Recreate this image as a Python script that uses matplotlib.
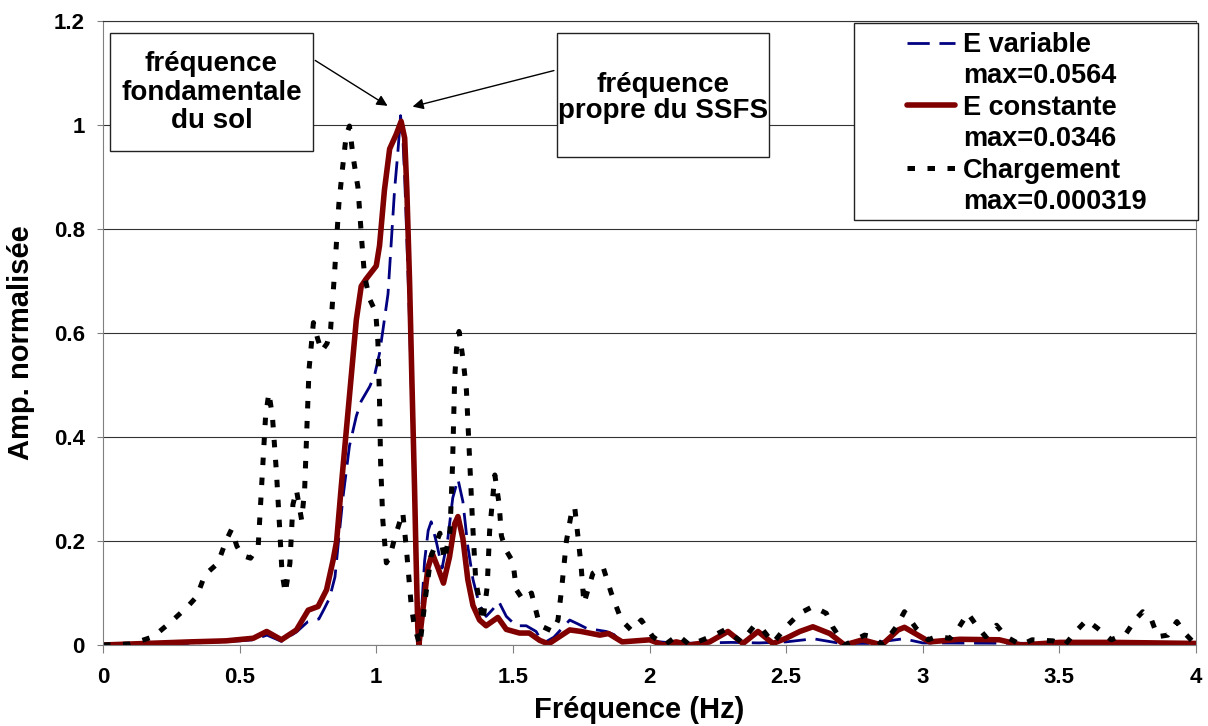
import matplotlib
matplotlib.use('Agg')
import matplotlib.pyplot as plt
from matplotlib.lines import Line2D
from matplotlib.patches import Rectangle
from matplotlib.font_manager import FontProperties

plt.rcParams['font.family'] = ['Liberation Sans', 'DejaVu Sans']
plt.rcParams['font.weight'] = 'bold'

# E variable (blue dashed)
var_f = [0.0, 0.3, 0.5, 0.55, 0.6, 0.653, 0.708, 0.75, 0.77, 0.79, 0.81, 0.829, 0.849, 0.86,
         0.878, 0.902, 0.927, 0.945, 0.976, 0.994, 1.012, 1.024, 1.043, 1.055, 1.067, 1.079,
         1.089, 1.098, 1.104, 1.112, 1.122, 1.13, 1.14, 1.146, 1.152, 1.156, 1.165, 1.177,
         1.19, 1.201, 1.22, 1.241, 1.262, 1.28, 1.299, 1.317, 1.335, 1.354, 1.378, 1.402,
         1.427, 1.449, 1.476, 1.512, 1.549, 1.585, 1.61, 1.65, 1.708, 1.74, 1.77, 1.842, 1.87,
         1.897, 2.0, 2.1, 2.2, 2.3, 2.4, 2.5, 2.6, 2.7, 2.8, 2.93, 3.0, 3.5, 4.0]
var_a = [0.0, 0.003, 0.008, 0.01, 0.019, 0.007, 0.025, 0.045, 0.048, 0.05, 0.07, 0.09, 0.131, 0.19,
         0.283, 0.383, 0.44, 0.469, 0.497, 0.519, 0.561, 0.604, 0.675, 0.775, 0.875, 0.947,
         1.018, 0.968, 0.9, 0.78, 0.62, 0.46, 0.27, 0.14, 0.03, 0.0, 0.06, 0.162,
         0.22, 0.237, 0.198, 0.148, 0.205, 0.283, 0.319, 0.276, 0.19, 0.126, 0.076, 0.055,
         0.069, 0.083, 0.055, 0.037, 0.037, 0.026, 0.003, 0.015, 0.048, 0.04, 0.032, 0.026, 0.02,
         0.006, 0.008, 0.003, 0.004, 0.005, 0.004, 0.006, 0.012, 0.003, 0.003, 0.012, 0.004, 0.003, 0.002]

# E constante (red solid)
const_f = [0.0, 0.318, 0.45, 0.55, 0.599, 0.653, 0.708, 0.751, 0.787, 0.818, 0.842, 0.855, 0.872,
           0.89, 0.909, 0.927, 0.945, 0.963, 1.0, 1.012, 1.03, 1.049, 1.073, 1.091, 1.104, 1.112,
           1.122, 1.13, 1.14, 1.146, 1.152, 1.156, 1.171, 1.189, 1.205, 1.226, 1.246, 1.268,
           1.287, 1.299, 1.317, 1.335, 1.354, 1.378, 1.402, 1.445, 1.476, 1.524, 1.56, 1.598,
           1.63, 1.708, 1.75, 1.818, 1.85, 1.9, 2.0, 2.05, 2.098, 2.147, 2.22, 2.287, 2.342,
           2.397, 2.452, 2.5, 2.55, 2.598, 2.66, 2.714, 2.78, 2.85, 2.91, 2.933, 3.025, 3.135,
           3.28, 3.36, 3.5, 3.7, 4.0]
const_a = [0.0, 0.006, 0.008, 0.013, 0.026, 0.01, 0.029, 0.067, 0.074, 0.106, 0.163, 0.2, 0.305,
           0.41, 0.52, 0.625, 0.69, 0.704, 0.729, 0.768, 0.875, 0.954, 0.982, 1.007, 0.975, 0.875,
           0.697, 0.519, 0.305, 0.162, 0.034, 0.0, 0.069, 0.148, 0.176, 0.148, 0.119, 0.169,
           0.233, 0.247, 0.205, 0.126, 0.076, 0.048, 0.037, 0.053, 0.03, 0.023, 0.023, 0.009,
           0.002, 0.029, 0.026, 0.019, 0.022, 0.006, 0.01, 0.0, 0.006, 0.0, 0.006, 0.026, 0.003,
           0.026, 0.003, 0.013, 0.026, 0.035, 0.022, 0.0, 0.01, 0.0, 0.029, 0.034, 0.006, 0.011,
           0.01, 0.0, 0.005, 0.005, 0.003]

# Chargement (black square dots)
load_f = [0.0, 0.1, 0.15, 0.184, 0.25, 0.31, 0.343, 0.373, 0.42, 0.45, 0.47, 0.49, 0.51, 0.54,
          0.568, 0.58, 0.595, 0.607, 0.62, 0.635, 0.647, 0.655, 0.667, 0.684, 0.695, 0.708,
          0.727, 0.738, 0.746, 0.754, 0.77, 0.785, 0.8, 0.82, 0.833, 0.848, 0.863, 0.876, 0.89,
          0.902, 0.915, 0.933, 0.948, 0.957, 0.976, 0.998, 1.006, 1.012, 1.016, 1.024, 1.037,
          1.05, 1.067, 1.097, 1.11, 1.128, 1.14, 1.16, 1.178, 1.2, 1.233, 1.25, 1.27, 1.279,
          1.287, 1.294, 1.303, 1.318, 1.33, 1.342, 1.352, 1.364, 1.39, 1.406, 1.415, 1.434,
          1.45, 1.458, 1.474, 1.5, 1.513, 1.537, 1.568, 1.598, 1.646, 1.665, 1.678, 1.696,
          1.714, 1.726, 1.739, 1.75, 1.76, 1.793, 1.83, 1.86, 1.897, 1.934, 1.97, 2.012, 2.055,
          2.104, 2.147, 2.195, 2.238, 2.275, 2.305, 2.336, 2.385, 2.415, 2.452, 2.5, 2.55,
          2.598, 2.647, 2.67, 2.714, 2.787, 2.817, 2.854, 2.903, 2.933, 2.976, 3.02, 3.05,
          3.1, 3.13, 3.165, 3.196, 3.23, 3.27, 3.305, 3.36, 3.4, 3.476, 3.52, 3.56, 3.6, 3.64,
          3.69, 3.744, 3.78, 3.805, 3.836, 3.86, 3.897, 3.93, 3.96, 4.0]
load_a = [0.0, 0.002, 0.01, 0.016, 0.045, 0.074, 0.093, 0.135, 0.157, 0.2, 0.222, 0.19, 0.172, 0.167,
          0.19, 0.3, 0.44, 0.485, 0.44, 0.33, 0.22, 0.14, 0.1, 0.157, 0.27, 0.298,
          0.24, 0.3, 0.415, 0.53, 0.62, 0.59, 0.565, 0.58, 0.608, 0.72, 0.847, 0.914, 0.98,
          0.998, 0.94, 0.88, 0.77, 0.71, 0.665, 0.64, 0.583, 0.47, 0.35, 0.24, 0.158,
          0.17, 0.205, 0.255, 0.187, 0.076, 0.034, 0.0, 0.083, 0.17, 0.215, 0.163, 0.22, 0.343,
          0.513, 0.57, 0.603, 0.548, 0.49, 0.356, 0.24, 0.125, 0.045, 0.112, 0.22, 0.327,
          0.27, 0.21, 0.183, 0.16, 0.106, 0.087, 0.1, 0.038, 0.026, 0.048, 0.106, 0.2,
          0.253, 0.266, 0.205, 0.15, 0.08, 0.138, 0.15, 0.1, 0.048, 0.028, 0.048, 0.016, 0.0,
          0.019, 0.0, 0.01, 0.019, 0.029, 0.019, 0.006, 0.038, 0.029, 0.004, 0.035, 0.061,
          0.074, 0.061, 0.035, 0.0, 0.019, 0.016, 0.0, 0.035, 0.064, 0.032, 0.01, 0.016,
          0.013, 0.032, 0.061, 0.038, 0.016, 0.038, 0.016, 0.0, 0.01, 0.008, 0.0, 0.026, 0.048, 0.032,
          0.01, 0.022, 0.05, 0.064, 0.05, 0.016, 0.019, 0.045, 0.022, 0.0]

labels = ['E variable', 'max=0.0564', 'E constante', 'max=0.0346', 'Chargement', 'max=0.000319']
x_ticks = [0, 0.5, 1, 1.5, 2, 2.5, 3, 3.5, 4]
x_tick_labels = ['0', '0.5', '1', '1.5', '2', '2.5', '3', '3.5', '4']
y_ticks = [0, 0.2, 0.4, 0.6, 0.8, 1.0, 1.2]
y_tick_labels = ['0', '0.2', '0.4', '0.6', '0.8', '1', '1.2']

W, H = 1208, 726
fig = plt.figure(figsize=(W / 100, H / 100), dpi=100)
ax = fig.add_axes([103 / W, 1 - 645 / H, 1093 / W, 624 / H])

blue_style = dict(color='#000080', lw=2.0, dashes=(8, 3.5))
red_style = dict(color='#800000', lw=4.0, solid_capstyle='round')
black_style = dict(color='black', lw=3.6, dashes=(1.5, 2.5))

# series order as in the legend: later ones on top
ax.plot(var_f, var_a, **blue_style)
ax.plot(const_f, const_a, **red_style)
ax.plot(load_f, load_a, **black_style)

ax.set_xlim(0, 4)
ax.set_ylim(0, 1.2)
ax.set_xticks(x_ticks)
ax.set_xticklabels(x_tick_labels, fontsize=16, fontweight='bold')
ax.set_yticks(y_ticks)
ax.set_yticklabels(y_tick_labels, fontsize=16, fontweight='bold')
ax.tick_params(axis='x', direction='out', length=6, color='#808080', pad=10)
ax.tick_params(axis='y', direction='out', length=4, color='#808080', pad=9)
ax.yaxis.grid(True, color='#333333', lw=0.8)
ax.set_axisbelow(True)
for s in ['left', 'bottom', 'right']:
    ax.spines[s].set_color('#808080')
ax.spines['top'].set_color('#333333')
ax.spines['top'].set_linewidth(0.8)

ax.set_xlabel('Fréquence (Hz)', fontsize=21, fontweight='bold')
ax.xaxis.set_label_coords(0.491, -0.082)
ax.set_ylabel('Amp. normalisée', fontsize=21, fontweight='bold')
ax.yaxis.set_label_coords(-0.062, 0.485)

# annotation boxes
box_kw = dict(facecolor='white', edgecolor='#222222', lw=1.0, clip_on=False, zorder=6)
ax.add_patch(Rectangle((0.026, 0.95), 0.742, 0.227, **box_kw))
ax.add_patch(Rectangle((1.66, 0.938), 0.779, 0.239, **box_kw))
ax.text(0.397, 1.062, 'fréquence\nfondamentale\ndu sol', ha='center', va='center',
        fontsize=20, fontweight='bold', linespacing=1.12, zorder=7)
ax.text(2.05, 1.052, 'fréquence\npropre du SSFS', ha='center', va='center',
        fontsize=20, fontweight='bold', linespacing=1.0, zorder=7)
arrow_kw = dict(arrowstyle='-|>', color='black', lw=1.0, mutation_scale=16)
ax.annotate('', xy=(1.05, 1.034), xytext=(0.768, 1.127), arrowprops=arrow_kw,
            annotation_clip=False, zorder=7)
ax.annotate('', xy=(1.123, 1.034), xytext=(1.66, 1.106), arrowprops=arrow_kw,
            annotation_clip=False, zorder=7)

# legend
fig.patches.append(Rectangle((854 / W, 1 - 220 / H), 344 / W, 197 / H,
                             transform=fig.transFigure, facecolor='white',
                             edgecolor='#222222', lw=1.0, zorder=5))
blank = Line2D([], [], color='none')
handles = [Line2D([], [], **blue_style), blank,
           Line2D([], [], **red_style), blank,
           Line2D([], [], **black_style), blank]
fs = 19.5
em = fs * 100 / 72
leg = fig.legend(handles, labels, loc='upper left',
                 bbox_to_anchor=(907 / W, 1 - 32 / H), bbox_transform=fig.transFigure,
                 frameon=False, borderpad=0, borderaxespad=0,
                 handlelength=48 / em, handletextpad=8 / em, labelspacing=0.2,
                 prop=FontProperties(family='Liberation Sans', weight='bold', size=fs))
for t in leg.get_texts():
    t.set_fontweight('bold')
leg.set_zorder(10)

fig.savefig('out.png', dpi=100)
